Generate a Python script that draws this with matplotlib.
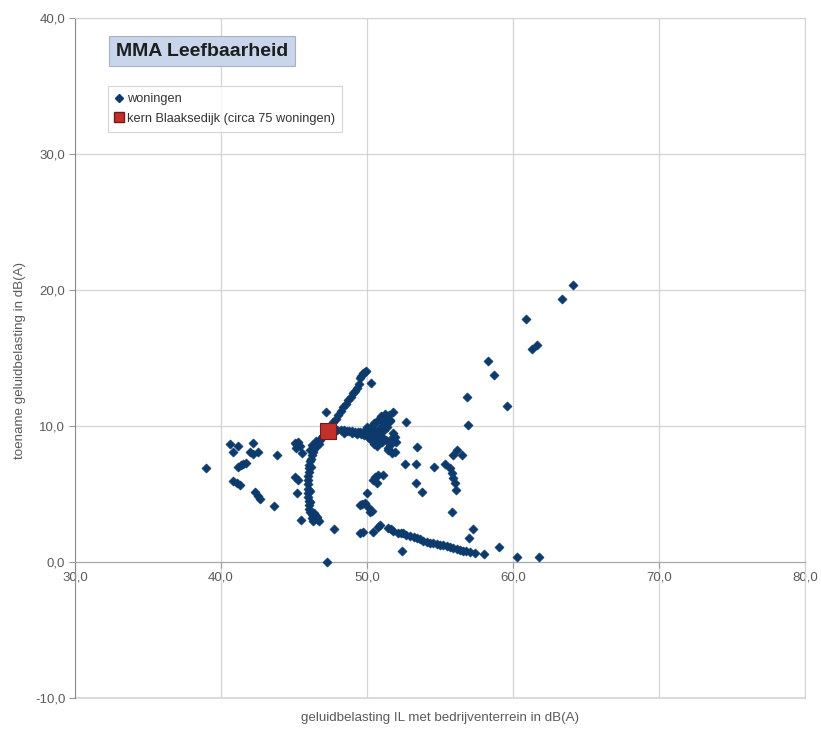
import matplotlib
matplotlib.use("Agg")
import matplotlib.pyplot as plt
from matplotlib.lines import Line2D
from matplotlib.ticker import FixedLocator, FuncFormatter

plt.rcParams['font.family'] = ['Liberation Sans', 'DejaVu Sans']

# Woningen: geluidbelasting IL (x) en toename geluidbelasting (y), dB(A)
woningen_x = [
    # verspreid links
    39.0, 40.6, 40.84, 41.19, 42.17, 41.99, 42.17, 42.56, 43.86,
    41.19, 41.4, 41.53, 41.71, 40.8, 41.07, 41.3, 42.33, 42.56, 42.67, 43.63,
    45.07, 45.29, 45.41, 45.14, 45.2, 45.53, 45.29, 45.07, 45.18, 45.48, 47.24,
    # boog onder de kern
    47.0, 46.8, 46.7, 46.5, 46.4, 46.3, 46.2, 46.15, 46.1, 46.05, 46.0, 46.0,
    45.98, 45.98, 45.98, 45.98, 45.98, 45.98, 46.0, 46.0, 46.05, 46.1, 46.2,
    46.3, 46.4, 46.55, 46.7, 46.2, 46.35, 46.25, 46.1, 46.5, 46.9, 46.15,
    46.1, 46.12, 46.4, 46.6, 46.45, 46.3,
    # tak omhoog
    47.19, 47.69, 47.85, 48.03, 48.2, 48.38, 48.55, 48.72, 48.9, 49.06, 49.2,
    49.34, 49.45, 49.52, 49.6, 49.75, 49.85, 49.93, 50.25, 47.55,
    # tak naar rechts
    47.7, 47.92, 48.2, 48.4, 48.6, 48.8, 48.95, 49.18, 49.4, 49.55, 49.75,
    49.9, 50.05, 48.4, 49.0, 49.3, 49.6, 49.8,
    # cluster rond 50-52 dB(A)
    50.2, 50.35, 50.5, 50.7, 50.9, 51.1, 51.3, 50.3, 50.55, 50.8, 51.0, 51.2,
    51.4, 51.6, 50.4, 50.65, 50.9, 51.15, 51.35, 50.1, 50.5, 50.75, 51.0,
    51.23, 51.58, 51.8, 51.5, 51.2, 50.95, 52.67, 51.8, 51.69, 51.92, 51.46,
    51.69, 51.92, 51.6, 52.0, 50.0, 50.25, 50.45, 50.7, 51.05, 51.3, 51.45,
    # midden
    53.45, 52.6, 53.36, 54.59, 55.34, 55.68, 55.8, 55.9, 56.03, 56.1, 55.9,
    56.14, 56.48, 53.36, 53.75, 50.43, 50.77, 51.12, 50.55, 50.66, 49.98,
    49.86, 50.09, 49.63, 50.2, 49.52, 50.31, 55.8, 47.74,
    # naar rechtsboven
    56.82, 56.94, 58.31, 58.7, 59.56, 60.89, 61.28, 61.62, 63.33, 64.13,
    # onderste lijn
    49.52, 49.75, 50.43, 50.77, 50.89, 51.46, 51.65, 51.8, 52.14, 52.3, 52.49,
    52.7, 52.95, 53.2, 53.4, 53.6, 53.86, 54.1, 54.32, 54.55, 54.77, 55.0,
    55.23, 55.45, 55.68, 55.9, 56.14, 56.35, 56.6, 56.8, 57.05, 57.4, 52.37,
    57.28, 57.0, 58.01, 59.06, 60.25, 61.78,
]
woningen_y = [
    # verspreid links
    6.9, 8.68, 8.11, 8.53, 8.77, 8.11, 7.92, 8.11, 7.87,
    6.96, 7.1, 7.2, 7.3, 5.96, 5.79, 5.64, 5.17, 4.85, 4.65, 4.12,
    8.73, 8.85, 8.53, 8.36, 8.6, 7.99, 6.03, 6.27, 5.05, 3.09, 0.02,
    # boog onder de kern
    9.3, 9.0, 8.7, 8.5, 8.3, 8.1, 7.9, 7.6, 7.4, 7.1, 6.9, 6.6,
    6.3, 6.0, 5.7, 5.4, 5.1, 4.8, 4.5, 4.2, 3.9, 3.7, 3.5,
    3.35, 3.25, 3.15, 3.05, 3.2, 3.6, 8.6, 8.2, 8.9, 9.2, 7.0,
    5.2, 4.4, 3.4, 3.3, 3.45, 3.0,
    # tak omhoog
    11.05, 10.32, 10.55, 10.81, 11.1, 11.42, 11.65, 11.91, 12.15, 12.4, 12.6,
    12.77, 13.1, 13.5, 13.65, 13.87, 14.0, 14.07, 13.18, 10.0,
    # tak naar rechts
    9.72, 9.71, 9.7, 9.68, 9.65, 9.62, 9.6, 9.58, 9.57, 9.55, 9.58,
    9.6, 9.6, 9.5, 9.45, 9.4, 9.42, 9.35,
    # cluster rond 50-52 dB(A)
    9.8, 10.0, 10.2, 10.4, 10.55, 10.6, 10.5, 9.4, 9.6, 9.8, 10.0, 10.2,
    10.3, 10.4, 9.1, 9.3, 9.5, 9.7, 9.9, 9.2, 8.9, 9.0, 9.2,
    10.56, 10.44, 11.05, 10.8, 10.9, 10.75, 10.27, 9.46, 9.1, 9.21, 8.24,
    7.99, 8.11, 8.6, 8.85, 9.9, 9.0, 8.7, 8.5, 8.8, 9.0, 8.4,
    # midden
    8.43, 7.2, 7.2, 7.01, 7.2, 6.89, 6.52, 6.15, 5.79, 5.29, 7.87,
    8.24, 7.87, 5.79, 5.17, 6.03, 6.4, 6.4, 6.27, 5.79, 5.05,
    4.31, 4.07, 4.27, 3.7, 4.19, 3.75, 3.7, 2.43,
    # naar rechtsboven
    12.16, 10.07, 14.78, 13.75, 11.47, 17.84, 15.66, 15.96, 19.32, 20.37,
    # onderste lijn
    2.11, 2.23, 2.23, 2.6, 2.72, 2.48, 2.4, 2.3, 2.15, 2.12, 2.11,
    2.0, 1.91, 1.82, 1.74, 1.66, 1.57, 1.5, 1.42, 1.37, 1.32, 1.28,
    1.23, 1.15, 1.08, 1.0, 0.93, 0.88, 0.83, 0.8, 0.76, 0.69, 0.83,
    2.4, 1.74, 0.59, 1.13, 0.35, 0.35,
]

kern_x = [47.3]
kern_y = [9.6]

x_ticks = [30, 40, 50, 60, 70, 80]
y_ticks = [-10, 0, 10, 20, 30, 40]

title_text = "MMA Leefbaarheid"
label_woningen = "woningen"
label_kern = "kern Blaaksedijk (circa 75 woningen)"
x_label = "geluidbelasting IL met bedrijventerrein in dB(A)"
y_label = "toename geluidbelasting in dB(A)"

navy = "#0c3a6d"
red = "#c3302b"
grid_col = "#d4d4d4"
text_col = "#5a5a5a"

fig = plt.figure(figsize=(8.21, 7.29), dpi=100)
ax = fig.add_axes([75 / 821, 1 - 698 / 729, 730 / 821, 680 / 729])

ax.set_xlim(30, 80)
ax.set_ylim(-10, 40)

ax.xaxis.set_major_locator(FixedLocator(x_ticks))
ax.yaxis.set_major_locator(FixedLocator(y_ticks))
fmt = FuncFormatter(lambda v, p: f"{v:.1f}".replace(".", ","))
ax.xaxis.set_major_formatter(fmt)
ax.yaxis.set_major_formatter(fmt)

ax.grid(True, color=grid_col, linewidth=0.9, zorder=0)
ax.set_axisbelow(True)

# x-as loopt door y = 0, kader rond het plotvlak
ax.spines['bottom'].set_position(('data', 0))
ax.spines['bottom'].set_color("#a8a8a8")
ax.spines['left'].set_color("#8c8c8c")
ax.spines['right'].set_color(grid_col)
ax.spines['top'].set_color(grid_col)
ax.axhline(-10, color=grid_col, linewidth=1.2, zorder=0, clip_on=False)

ax.tick_params(axis='both', colors="#9a9a9a", labelcolor=text_col,
               labelsize=9.5, length=4, width=0.8, direction='out')
ax.tick_params(axis='x', pad=3)
ax.tick_params(axis='y', pad=3)

ax.scatter(woningen_x, woningen_y, marker='D', s=22, color=navy,
           edgecolors=navy, linewidths=0.4, zorder=3)
ax.scatter(kern_x, kern_y, marker='s', s=130, color=red,
           edgecolors="#6e1d1a", linewidths=0.8, zorder=4)

fig.text(440 / 821, 1 - 718 / 729, x_label, ha='center', va='center',
         fontsize=9.6, color=text_col)
fig.text(20 / 821, 1 - 360 / 729, y_label, ha='center', va='center',
         rotation=90, fontsize=9.6, color=text_col)

fig.text(202 / 821, 1 - 51 / 729, title_text, ha='center', va='center',
         fontsize=14, fontweight='bold', color="#1e1e1e",
         bbox=dict(boxstyle='square,pad=0.35', facecolor="#c8d5ea",
                   edgecolor="#a9b2c0", linewidth=0.8))

handles = [
    Line2D([], [], linestyle='none', marker='D', markersize=4,
           color=navy, markeredgecolor=navy),
    Line2D([], [], linestyle='none', marker='s', markersize=7,
           color=red, markeredgecolor="#6e1d1a"),
]
leg = ax.legend(handles, [label_woningen, label_kern], loc='upper left',
                bbox_to_anchor=((108 - 75) / 730, (698 - 86) / 680),
                borderaxespad=0, fontsize=9.2, frameon=True, fancybox=False,
                edgecolor="#cccccc", handlelength=0.6, handletextpad=0.3,
                borderpad=0.55, labelspacing=0.6)
leg.get_frame().set_linewidth(0.8)
for t in leg.get_texts():
    t.set_color("#333333")

fig.savefig("out.png", dpi=100)
